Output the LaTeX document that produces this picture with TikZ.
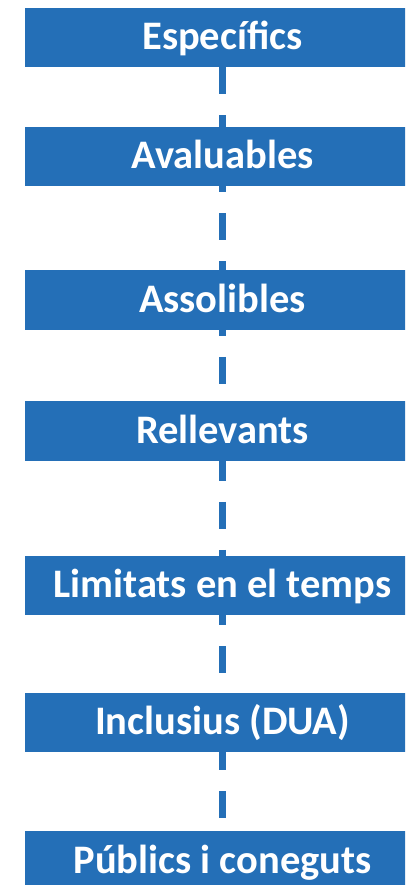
\documentclass[tikz,border=0pt]{standalone}
\usepackage{fontspec}
\setmainfont{Carlito}
\definecolor{boxblue}{RGB}{36,111,183}
\begin{document}
\begin{tikzpicture}[x=1pt,y=-1pt,
  box/.style={fill=boxblue, draw=none, inner sep=0pt, minimum width=395pt, minimum height=59.5pt,
    text=white, font=\fontsize{40.5}{44}\selectfont\bfseries, text height=26pt, text depth=2pt},
  conn/.style={draw=boxblue, line width=6.5pt, dash pattern=on 27pt off 21pt}]
\clip (0,0) rectangle (405,885);
\fill[white] (0,0) rectangle (405,885);
\node[box] (b1) at (222.5,37.5) {Específics};
\node[box] (b2) at (222.5,156.5) {Avaluables};
\node[box] (b3) at (222.5,300) {Assolibles};
\node[box] (b4) at (222.5,431) {Rellevants};
\node[box] (b5) at (222.5,585.5) {Limitats en el temps};
\node[box] (b6) at (222.5,722.5) {Inclusius (DUA)};
\node[box] (b7) at (222.5,861) {Públics i coneguts};
\draw[conn, dash phase=0pt] (b1.south) -- (b2.north);
\draw[conn, dash phase=21pt] (b2.south) -- (b3.north);
\draw[conn, dash phase=21pt] (b3.south) -- (b4.north);
\draw[conn, dash phase=7pt] (b4.south) -- (b5.north);
\draw[conn, dash phase=17pt] (b5.south) -- (b6.north);
\draw[conn, dash phase=9pt] (b6.south) -- (b7.north);
\end{tikzpicture}
\end{document}
